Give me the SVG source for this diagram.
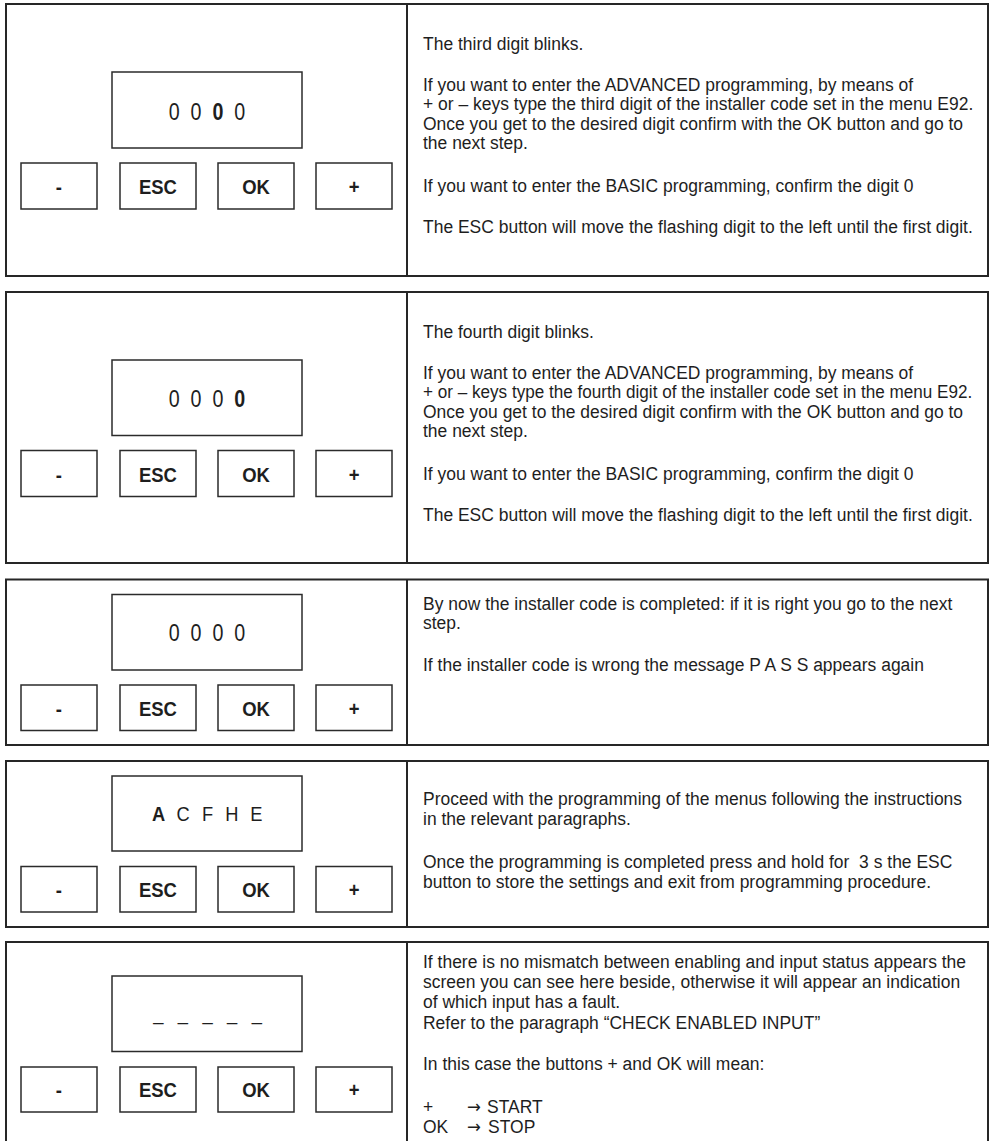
<svg xmlns="http://www.w3.org/2000/svg" width="993" height="1141" viewBox="0 0 993 1141">
<style>
.panel{fill:#fff;stroke:#262626;stroke-width:2}
.div{stroke:#262626;stroke-width:2}
.box{fill:#fff;stroke:#2b2b2b;stroke-width:1.5}
.txt{font-family:"Liberation Sans",Arial,sans-serif;font-size:19px;fill:#1e1e1e}
.arr{font-family:"DejaVu Sans",sans-serif;font-size:18px}
.lbl{font-family:"Liberation Sans",Arial,sans-serif;font-size:21px;font-weight:bold;fill:#1e1e1e;text-anchor:middle}
.disp{font-family:"Liberation Sans",Arial,sans-serif;font-size:24px;fill:#1e1e1e;text-anchor:middle}
.dispL{font-family:"Liberation Sans",Arial,sans-serif;font-size:21px;fill:#1e1e1e;text-anchor:middle}
.b{font-weight:bold}
</style>
<rect width="993" height="1141" fill="#fff"/>

<!-- Panel 1 -->
<g id="panel1">
<rect class="panel" x="6" y="4" width="982" height="272"/>
<line class="div" x1="407" y1="4" x2="407" y2="276"/>
<rect class="box" x="112" y="72" width="190" height="76"/>
<g transform="translate(207 0) scale(0.82 1)"><text class="disp" y="120"><tspan x="-40">0</tspan><tspan x="-13.4">0</tspan><tspan x="13.4" class="b">0</tspan><tspan x="40">0</tspan></text></g>
<rect class="box" x="21" y="163" width="76" height="46"/>
<rect class="box" x="120" y="163" width="76" height="46"/>
<rect class="box" x="218" y="163" width="76" height="46"/>
<rect class="box" x="316" y="163" width="76" height="46"/>
<g transform="scale(0.88 1)">
<text class="lbl" x="67" y="194.5">-</text><text class="lbl" x="179.5" y="194.5">ESC</text><text class="lbl" x="290.9" y="194.5">OK</text><text class="lbl" x="402.3" y="194.5">+</text>
</g>
<g transform="translate(423 0) scale(0.92 1)" class="txt">
<text x="0" y="50">The third digit blinks.</text>
<text x="0" y="91">If you want to enter the ADVANCED programming, by means of</text>
<text x="0" y="110.5">+ or – keys type the third digit of the installer code set in the menu E92.</text>
<text x="0" y="130">Once you get to the desired digit confirm with the OK button and go to</text>
<text x="0" y="149.5">the next step.</text>
<text x="0" y="192.5">If you want to enter the BASIC programming, confirm the digit 0</text>
<text x="0" y="233">The ESC button will move the flashing digit to the left until the first digit.</text>
</g>
</g>

<!-- Panel 2 -->
<g id="panel2">
<rect class="panel" x="6" y="292" width="982" height="271"/>
<line class="div" x1="407" y1="292" x2="407" y2="563"/>
<rect class="box" x="112" y="360" width="190" height="75.5"/>
<g transform="translate(207 0) scale(0.82 1)"><text class="disp" y="407"><tspan x="-40">0</tspan><tspan x="-13.4">0</tspan><tspan x="13.4">0</tspan><tspan x="40" class="b">0</tspan></text></g>
<rect class="box" x="21" y="450.5" width="76" height="46"/>
<rect class="box" x="120" y="450.5" width="76" height="46"/>
<rect class="box" x="218" y="450.5" width="76" height="46"/>
<rect class="box" x="316" y="450.5" width="76" height="46"/>
<g transform="scale(0.88 1)">
<text class="lbl" x="67" y="482">-</text><text class="lbl" x="179.5" y="482">ESC</text><text class="lbl" x="290.9" y="482">OK</text><text class="lbl" x="402.3" y="482">+</text>
</g>
<g transform="translate(423 0) scale(0.92 1)" class="txt">
<text x="0" y="338">The fourth digit blinks.</text>
<text x="0" y="379">If you want to enter the ADVANCED programming, by means of</text>
<text x="0" y="398.5" textLength="597" lengthAdjust="spacingAndGlyphs">+ or – keys type the fourth digit of the installer code set in the menu E92.</text>
<text x="0" y="418">Once you get to the desired digit confirm with the OK button and go to</text>
<text x="0" y="437.5">the next step.</text>
<text x="0" y="480.5">If you want to enter the BASIC programming, confirm the digit 0</text>
<text x="0" y="521">The ESC button will move the flashing digit to the left until the first digit.</text>
</g>
</g>

<!-- Panel 3 -->
<g id="panel3">
<rect class="panel" x="6" y="579.5" width="982" height="165.5"/>
<line class="div" x1="407" y1="579.5" x2="407" y2="745"/>
<rect class="box" x="112" y="594.5" width="190" height="75.5"/>
<g transform="translate(207 0) scale(0.82 1)"><text class="disp" y="641"><tspan x="-40">0</tspan><tspan x="-13.4">0</tspan><tspan x="13.4">0</tspan><tspan x="40">0</tspan></text></g>
<rect class="box" x="21" y="685" width="76" height="45.5"/>
<rect class="box" x="120" y="685" width="76" height="45.5"/>
<rect class="box" x="218" y="685" width="76" height="45.5"/>
<rect class="box" x="316" y="685" width="76" height="45.5"/>
<g transform="scale(0.88 1)">
<text class="lbl" x="67" y="716">-</text><text class="lbl" x="179.5" y="716">ESC</text><text class="lbl" x="290.9" y="716">OK</text><text class="lbl" x="402.3" y="716">+</text>
</g>
<g transform="translate(423 0) scale(0.92 1)" class="txt">
<text x="0" y="610">By now the installer code is completed: if it is right you go to the next</text>
<text x="0" y="629.5">step.</text>
<text x="0" y="671">If the installer code is wrong the message P A S S appears again</text>
</g>
</g>

<!-- Panel 4 -->
<g id="panel4">
<rect class="panel" x="6" y="761" width="982" height="166"/>
<line class="div" x1="407" y1="761" x2="407" y2="927"/>
<rect class="box" x="112" y="776" width="190" height="75"/>
<g transform="translate(207.5 0) scale(0.87 1)"><text class="dispL" y="821.5"><tspan x="-56.1" class="b">A</tspan><tspan x="-28">C</tspan><tspan x="0">F</tspan><tspan x="28">H</tspan><tspan x="56.1">E</tspan></text></g>
<rect class="box" x="21" y="866.5" width="76" height="45.5"/>
<rect class="box" x="120" y="866.5" width="76" height="45.5"/>
<rect class="box" x="218" y="866.5" width="76" height="45.5"/>
<rect class="box" x="316" y="866.5" width="76" height="45.5"/>
<g transform="scale(0.88 1)">
<text class="lbl" x="67" y="897.5">-</text><text class="lbl" x="179.5" y="897.5">ESC</text><text class="lbl" x="290.9" y="897.5">OK</text><text class="lbl" x="402.3" y="897.5">+</text>
</g>
<g transform="translate(423 0) scale(0.92 1)" class="txt">
<text x="0" y="805">Proceed with the programming of the menus following the instructions</text>
<text x="0" y="825">in the relevant paragraphs.</text>
<text x="0" y="868" xml:space="preserve">Once the programming is completed press and hold for  3 s the ESC</text>
<text x="0" y="888">button to store the settings and exit from programming procedure.</text>
</g>
</g>

<!-- Panel 5 -->
<g id="panel5">
<path class="panel" d="M6 1141 V942 H988 V1141"/>
<line class="div" x1="407" y1="942" x2="407" y2="1141"/>
<rect class="box" x="112" y="976" width="190" height="75.5"/>
<g transform="translate(207.5 0) scale(0.87 1)"><text class="dispL" y="1020"><tspan x="-56.6">_</tspan><tspan x="-28.3">_</tspan><tspan x="0">_</tspan><tspan x="28.3">_</tspan><tspan x="56.6">_</tspan></text></g>
<rect class="box" x="21" y="1067" width="76" height="45"/>
<rect class="box" x="120" y="1067" width="76" height="45"/>
<rect class="box" x="218" y="1067" width="76" height="45"/>
<rect class="box" x="316" y="1067" width="76" height="45"/>
<g transform="scale(0.88 1)">
<text class="lbl" x="67" y="1097.5">-</text><text class="lbl" x="179.5" y="1097.5">ESC</text><text class="lbl" x="290.9" y="1097.5">OK</text><text class="lbl" x="402.3" y="1097.5">+</text>
</g>
<g transform="translate(423 0) scale(0.92 1)" class="txt">
<text x="0" y="968.5">If there is no mismatch between enabling and input status appears the</text>
<text x="0" y="988.5">screen you can see here beside, otherwise it will appear an indication</text>
<text x="0" y="1008.5">of which input has a fault.</text>
<text x="0" y="1029">Refer to the paragraph “CHECK ENABLED INPUT”</text>
<text x="0" y="1070.5">In this case the buttons + and OK will mean:</text>
<text x="0" y="1113.5">+</text><text class="arr" x="47.8" y="1113.5">→</text><text x="69.6" y="1113.5">START</text>
<text x="0" y="1133.5">OK</text><text class="arr" x="47.8" y="1133.5">→</text><text x="70.7" y="1133.5">STOP</text>
</g>
</g>
</svg>
